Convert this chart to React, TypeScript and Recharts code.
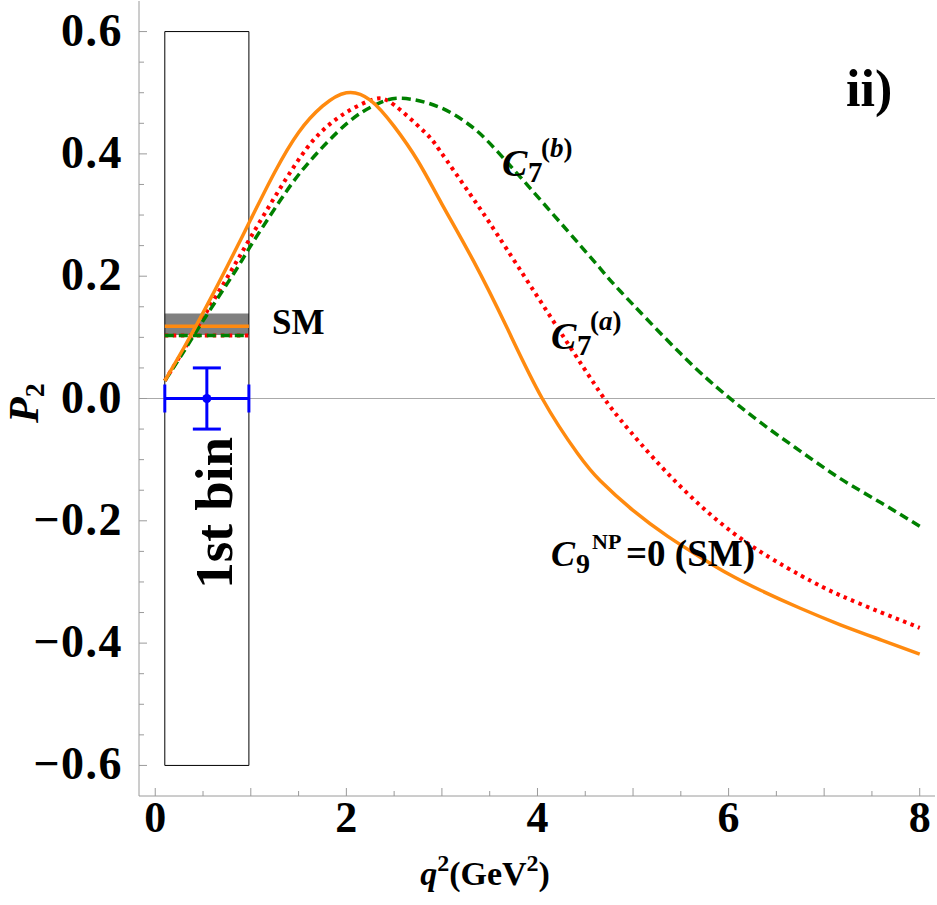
import React from 'react';
import {
  ComposedChart, Line, Scatter, ErrorBar, XAxis, YAxis, ReferenceLine, ReferenceArea
} from 'recharts';

// P2 curves
const orangeX = [0.1, 0.3, 0.5, 0.75, 1.0, 1.25, 1.5, 1.75, 2.0, 2.25, 2.5, 2.75, 3.0, 3.33, 3.68, 4.05, 4.42, 4.66, 5.0, 5.36, 5.7, 6.0, 6.34, 6.75, 7.17, 7.6, 8.0];
const orangeY = [0.029, 0.083, 0.14, 0.215, 0.293, 0.37, 0.435, 0.478, 0.5, 0.488, 0.445, 0.388, 0.318, 0.225, 0.116, 0.0, -0.09, -0.135, -0.183, -0.225, -0.259, -0.287, -0.314, -0.343, -0.37, -0.395, -0.418];

const redX = [0.1, 0.3, 0.5, 0.75, 1.0, 1.3, 1.59, 1.8, 2.0, 2.28, 2.5, 2.81, 2.98, 3.3, 3.58, 4.06, 4.59, 4.87, 5.36, 6.05, 6.75, 7.17, 7.6, 8.0];
const redY = [0.029, 0.08, 0.132, 0.197, 0.264, 0.342, 0.41, 0.445, 0.468, 0.489, 0.48, 0.437, 0.405, 0.333, 0.268, 0.152, 0.025, -0.035, -0.122, -0.22, -0.289, -0.322, -0.35, -0.375];

const greenX = [0.1, 0.3, 0.5, 0.84, 1.0, 1.3, 1.59, 2.0, 2.3, 2.57, 2.98, 3.3, 3.58, 4.17, 4.66, 4.87, 5.5, 5.97, 6.34, 6.75, 7.17, 7.6, 8.0];
const greenY = [0.029, 0.077, 0.127, 0.209, 0.25, 0.322, 0.383, 0.449, 0.48, 0.491, 0.476, 0.446, 0.404, 0.3, 0.212, 0.175, 0.073, 0.006, -0.04, -0.086, -0.131, -0.171, -0.209];

// first bin, SM band and measurement
const binRange = [0.1, 0.98];
const binBox = [-0.6, 0.6];
const smBand = [0.104, 0.139];
const smOrange = 0.118;
const smC7 = 0.103;
const measX = 0.54;
const measY = 0.0;
const measErrX = 0.44;
const measErrY = 0.05;

const xTicks = [0, 0.5, 1, 1.5, 2, 2.5, 3, 3.5, 4, 4.5, 5, 5.5, 6, 6.5, 7, 7.5, 8];
const yTicks = [-0.6, -0.55, -0.5, -0.45, -0.4, -0.35, -0.3, -0.25, -0.2, -0.15, -0.1, -0.05, 0, 0.05, 0.1, 0.15, 0.2, 0.25, 0.3, 0.35, 0.4, 0.45, 0.5, 0.55, 0.6];

const SERIF = '"Liberation Serif", "Times New Roman", serif';
const FRAME = '#9a9a9a';

const toPts = (xs: number[], ys: number[]) => xs.map((x, i) => ({ x, y: ys[i] }));
const orangeData = toPts(orangeX, orangeY);
const redData = toPts(redX, redY);
const greenData = toPts(greenX, greenY);
const smOrangeData = toPts(binRange, [smOrange, smOrange]);
const smC7Data = toPts(binRange, [smC7, smC7]);
const measData = [{ x: measX, y: measY, ex: measErrX, ey: measErrY }];

const isMajorY = (v: number) => Math.abs(v * 5 - Math.round(v * 5)) < 1e-6;
const fmtY = (v: number) => (Math.abs(v) < 1e-9 ? '0.0' : (v < 0 ? '\u2212' : '') + Math.abs(v).toFixed(1));

const BottomTick = ({ x, y, payload }: any) => {
  const v = payload.value;
  const major = Number.isInteger(v);
  return (
    <g>
      <line x1={x} x2={x} y1={y} y2={y - (major ? 8 : 5)} stroke={FRAME} />
      {v % 2 === 0 && (
        <text x={x} y={y + 36} textAnchor="middle" fontFamily={SERIF} fontWeight="bold" fontSize={44} fill="#000">{v}</text>
      )}
    </g>
  );
};

const TopTick = ({ x, y, payload }: any) => {
  const major = Number.isInteger(payload.value);
  return <line x1={x} x2={x} y1={y} y2={y + (major ? 8 : 5)} stroke={FRAME} />;
};

const LeftTick = ({ x, y, payload }: any) => {
  const v = payload.value;
  const major = isMajorY(v);
  return (
    <g>
      <line x1={x} x2={x + (major ? 8 : 5)} y1={y} y2={y} stroke={FRAME} />
      {major && (
        <text x={x - 16} y={y + 14} textAnchor="end" fontFamily={SERIF} fontWeight="bold" fontSize={46}
          letterSpacing={1.5} fill="#000">{fmtY(v)}</text>
      )}
    </g>
  );
};

const RightTick = ({ x, y, payload }: any) => {
  const major = isMajorY(payload.value);
  return <line x1={x} x2={x - (major ? 8 : 5)} y1={y} y2={y} stroke={FRAME} />;
};

export default function App() {
  return (
    <div style={{ position: 'absolute', left: 0, top: 0, width: 937, height: 905, background: '#fff' }}>
      <ComposedChart width={937} height={905} margin={{ top: 1, right: 2, bottom: 0, left: 0 }}>
        <XAxis xAxisId={0} type="number" dataKey="x" domain={[-0.17, 8.16]} allowDataOverflow ticks={xTicks} interval={0}
          height={109} tickSize={0} tickMargin={0} tick={<BottomTick />} axisLine={{ stroke: FRAME }} />
        <XAxis xAxisId="top" orientation="top" type="number" dataKey="x" domain={[-0.17, 8.16]} allowDataOverflow ticks={xTicks} interval={0}
          height={0} tickSize={0} tickMargin={0} tick={<TopTick />} axisLine={{ stroke: FRAME }} />
        <YAxis yAxisId={0} type="number" domain={[-0.65, 0.65]} allowDataOverflow ticks={yTicks} interval={0}
          width={139} tickSize={0} tickMargin={0} tick={<LeftTick />} axisLine={{ stroke: FRAME }} />
        <YAxis yAxisId="right" orientation="right" type="number" domain={[-0.65, 0.65]} allowDataOverflow ticks={yTicks} interval={0}
          width={0} tickSize={0} tickMargin={0} tick={<RightTick />} axisLine={{ stroke: FRAME }} />

        <ReferenceLine y={0} stroke="#aaaaaa" strokeWidth={1} />
        <ReferenceArea x1={binRange[0]} x2={binRange[1]} y1={smBand[0]} y2={smBand[1]} fill="#808080" fillOpacity={1} stroke="none" />
        <ReferenceArea x1={binRange[0]} x2={binRange[1]} y1={binBox[0]} y2={binBox[1]} fill="none" stroke="#000" strokeWidth={1} />

        <Line data={smC7Data} dataKey="y" stroke="#ff0000" strokeWidth={4} strokeDasharray="3.5 4.5" dot={false} isAnimationActive={false} />
        <Line data={smC7Data} dataKey="y" stroke="#008000" strokeWidth={3.5} strokeDasharray="9 5" dot={false} isAnimationActive={false} />
        <Line data={smOrangeData} dataKey="y" stroke="#ff8a0f" strokeWidth={3.5} dot={false} isAnimationActive={false} />

        <Line data={redData} dataKey="y" type="natural" stroke="#ff0000" strokeWidth={4} strokeDasharray="3.5 4.5" dot={false} isAnimationActive={false} />
        <Line data={greenData} dataKey="y" type="natural" stroke="#008000" strokeWidth={3.5} strokeDasharray="9 5" dot={false} isAnimationActive={false} />
        <Line data={orangeData} dataKey="y" type="natural" stroke="#ff8a0f" strokeWidth={3.5} dot={false} isAnimationActive={false} />

        <Scatter data={measData} dataKey="y" fill="#0000ff" isAnimationActive={false}>
          <ErrorBar dataKey="ex" direction="x" width={14} stroke="#0000ff" strokeWidth={3} isAnimationActive={false} />
          <ErrorBar dataKey="ey" direction="y" width={14} stroke="#0000ff" strokeWidth={3} isAnimationActive={false} />
        </Scatter>
      </ComposedChart>

      <svg width={937} height={905} style={{ position: 'absolute', left: 0, top: 0, pointerEvents: 'none' }}
        fontFamily={SERIF} fontWeight="bold" fill="#000">
        <text x={846} y={106} fontSize={52}>ii)</text>
        <text x={272} y={334} fontSize={35}>SM</text>
        <text transform="translate(232,513) rotate(-90)" textAnchor="middle" fontSize={53}>1st bin</text>

        <text fontSize={38}>
          <tspan x={502} y={176} fontStyle="italic">C</tspan>
          <tspan x={528} y={182} fontSize={29}>7</tspan>
          <tspan x={541} y={157} fontSize={27}>(<tspan fontStyle="italic">b</tspan>)</tspan>
        </text>
        <text fontSize={38}>
          <tspan x={551} y={349} fontStyle="italic">C</tspan>
          <tspan x={577} y={355} fontSize={29}>7</tspan>
          <tspan x={590} y={330} fontSize={27}>(<tspan fontStyle="italic">a</tspan>)</tspan>
        </text>
        <text fontSize={37}>
          <tspan x={551} y={566} fontSize={36} fontStyle="italic">C</tspan>
          <tspan x={576} y={573} fontSize={28}>9</tspan>
          <tspan x={592} y={549} fontSize={22}>NP</tspan>
          <tspan x={626} y={566}>=0 (SM)</tspan>
        </text>

        <text transform="translate(38,423) rotate(-90)" fontSize={42}>
          <tspan fontStyle="italic">P</tspan>
          <tspan fontSize={28} dy={6}>2</tspan>
        </text>
        <text x={485} y={885} textAnchor="middle" fontSize={34}>
          <tspan fontStyle="italic">q</tspan>
          <tspan dy={-14} fontSize={24}>2</tspan>
          <tspan dy={14}>(GeV</tspan>
          <tspan dy={-14} fontSize={24}>2</tspan>
          <tspan dy={14}>)</tspan>
        </text>
      </svg>
    </div>
  );
}
